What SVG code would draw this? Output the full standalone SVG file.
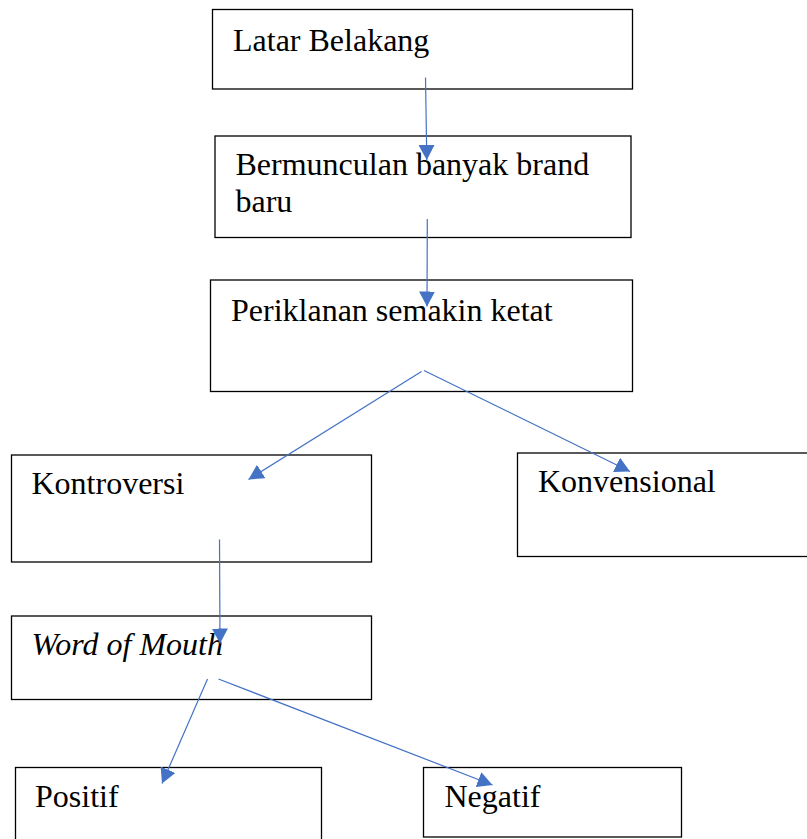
<svg xmlns="http://www.w3.org/2000/svg" width="807" height="839" viewBox="0 0 807 839">
<style>
.box{fill:#fff;stroke:#000;stroke-width:1.3}
.t{font-family:"Liberation Serif","Times New Roman",serif;font-size:32px;fill:#000}
.i{font-style:italic}
.c{stroke:#4472C4;stroke-width:1.2;fill:none;marker-end:url(#ah)}
</style>
<defs>
<marker id="ah" markerUnits="userSpaceOnUse" viewBox="0 0 15 16" refX="15" refY="8" markerWidth="15" markerHeight="16" orient="auto">
<path d="M0,0 L15,8 L0,16 z" fill="#4472C4"/>
</marker>
</defs>
<rect width="807" height="839" fill="#fff"/>
<g id="n1"><rect class="box" x="212.5" y="9.5" width="420" height="79.5"/><text class="t" x="233" y="51">Latar Belakang</text></g>
<g id="n2"><rect class="box" x="215" y="136" width="416" height="101.5"/><text class="t" x="235.5" y="175">Bermunculan banyak brand</text><text class="t" x="235.5" y="212">baru</text></g>
<g id="n3"><rect class="box" x="210.5" y="280" width="422" height="111.5"/><text class="t" x="231" y="321">Periklanan semakin ketat</text></g>
<g id="n4"><rect class="box" x="11.5" y="455" width="360" height="107"/><text class="t" x="31.5" y="494">Kontroversi</text></g>
<g id="n5"><rect class="box" x="517.5" y="453" width="295" height="103.5"/><text class="t" x="538" y="492">Konvensional</text></g>
<g id="n6"><rect class="box" x="11.5" y="616" width="360" height="83.5"/><text class="t i" x="31.5" y="655">Word of Mouth</text></g>
<g id="n7"><rect class="box" x="15.5" y="767.5" width="306" height="80"/><text class="t" x="35" y="807">Positif</text></g>
<g id="n8"><rect class="box" x="423.5" y="767.5" width="258" height="69.5"/><text class="t" x="444.5" y="807">Negatif</text></g>
<g id="connectors">
<line class="c" x1="425.5" y1="77.5" x2="426.8" y2="160"/>
<line class="c" x1="427.3" y1="219" x2="427" y2="306.5"/>
<line class="c" x1="421.5" y1="371.5" x2="248.5" y2="479.5"/>
<line class="c" x1="424" y1="370.5" x2="630" y2="471.5"/>
<line class="c" x1="219.5" y1="539.5" x2="220" y2="643.5"/>
<line class="c" x1="207.5" y1="679" x2="162" y2="783.5"/>
<line class="c" x1="218.5" y1="679" x2="492.5" y2="785"/>
</g>
</svg>
